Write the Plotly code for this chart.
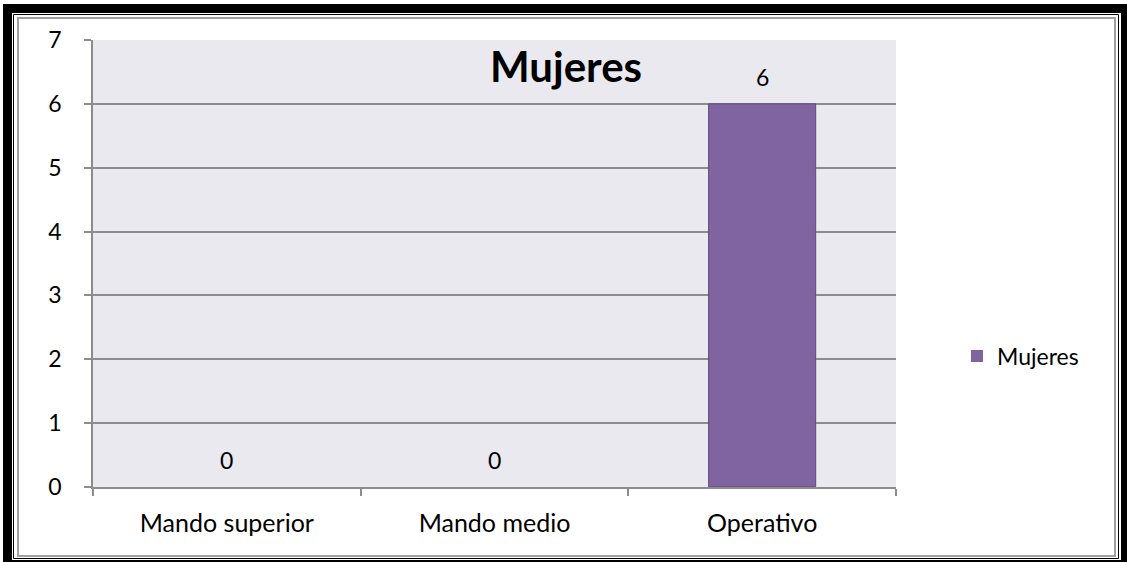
import plotly.graph_objects as go

categories = ["Mando superior", "Mando medio", "Operativo"]
values = [0, 0, 6]
series_name = "Mujeres"
title_text = "Mujeres"
y_ticks = [0, 1, 2, 3, 4, 5, 6, 7]

W, H = 1127, 562
L, R, T, B = 93, 231, 40, 75
PW = W - L - R
PH = H - T - B


def px(x):
    return (x - L) / PW


def py(y):
    return (H - B - y) / PH


FONT = "Lato"
FS = 23
XFS = 25
fig = go.Figure()
fig.add_trace(go.Bar(
    x=categories, y=values, name=series_name,
    marker=dict(color="#8064A2",
                line=dict(color="#5E4A7A", width=[0 if v == 0 else 1 for v in values])),
    width=0.4, showlegend=True,
))

shapes = []
# outer thick black bands
for (x0, y0, x1, y1) in [(3, 4, 12, 562), (3, 4, 1127, 13), (1121, 4, 1127, 562), (3, 560, 1127, 562)]:
    shapes.append(dict(type="rect", xref="paper", yref="paper",
                       x0=px(x0), x1=px(x1), y0=py(y0), y1=py(y1),
                       fillcolor="black", line=dict(width=0), layer="above"))
# thin black line
shapes.append(dict(type="rect", xref="paper", yref="paper",
                   x0=px(13.5), x1=px(1118.5), y0=py(14.5), y1=py(558.5),
                   line=dict(color="black", width=1), layer="above"))
# gray line
shapes.append(dict(type="rect", xref="paper", yref="paper",
                   x0=px(18), x1=px(1115), y0=py(18), y1=py(556),
                   line=dict(color="#A0A0A0", width=2), layer="above"))

annotations = [dict(x=c, y=v, xref="x", yref="y", text=str(v), showarrow=False,
                    yshift=27, yanchor="middle",
                    font=dict(family=FONT, size=FS, color="black"))
               for c, v in zip(categories, values)]
annotations.append(dict(x=px(566), y=py(66), xref="paper", yref="paper",
                        xanchor="center", yanchor="middle",
                        text="<b>%s</b>" % title_text,
                        showarrow=False, font=dict(family=FONT, size=42, color="black")))

fig.update_layout(
    width=W, height=H,
    margin=dict(l=L, r=R, t=T, b=B),
    paper_bgcolor="white",
    plot_bgcolor="#EBE9F0",
    shapes=shapes,
    annotations=annotations,
    font=dict(family=FONT, size=FS, color="black"),
    legend=dict(x=px(957), y=py(356), xanchor="left", yanchor="middle",
                bgcolor="rgba(0,0,0,0)", font=dict(family=FONT, size=FS)),
    xaxis=dict(type="category", tickson="boundaries", ticks="outside", ticklen=7,
               tickcolor="#8C8C8C", tickwidth=1.5, showline=True, linecolor="#8C8C8C",
               linewidth=1.5, showgrid=False, ticklabelstandoff=13,
               tickfont=dict(family=FONT, size=XFS)),
    yaxis=dict(range=[0, 7], tickvals=y_ticks, ticks="outside", ticklen=7,
               tickcolor="#8C8C8C", tickwidth=1.5, showline=True, linecolor="#8C8C8C",
               linewidth=1.5, showgrid=True, gridcolor="#8C8C8C", gridwidth=1.5,
               zeroline=False, ticklabelstandoff=18,
               tickfont=dict(family=FONT, size=FS)),
    bargap=0.6,
)

fig.write_html("out.html",
               config={"displayModeBar": False},
               post_script="document.body.style.margin='0';document.body.style.padding='0';"
                           "document.documentElement.style.overflow='hidden';")
